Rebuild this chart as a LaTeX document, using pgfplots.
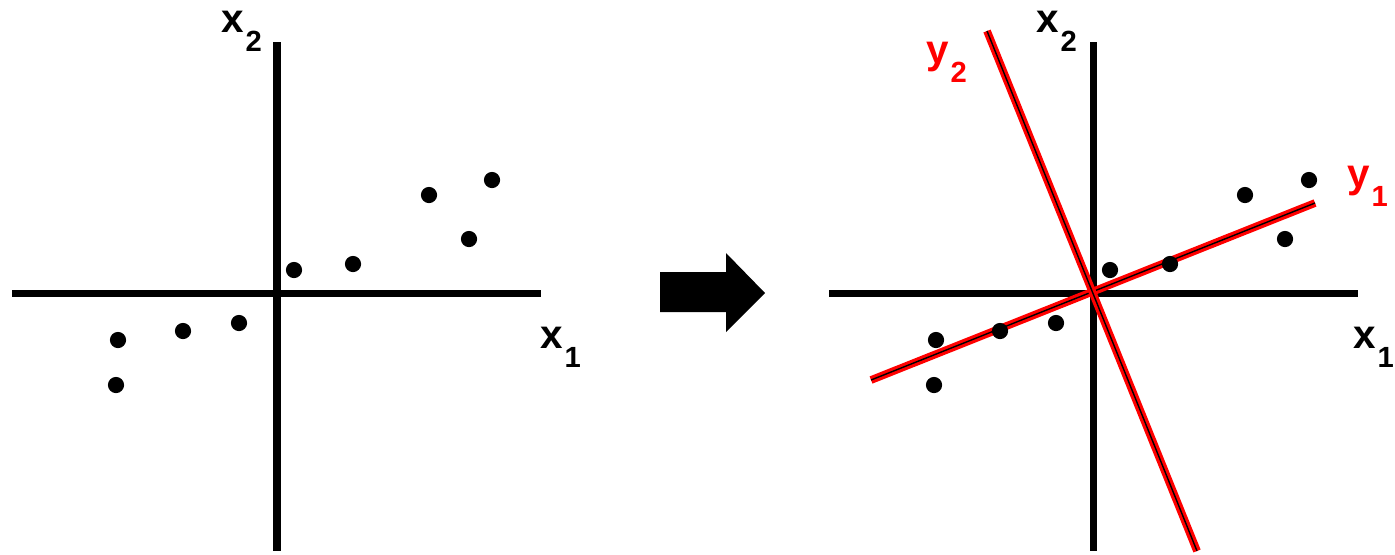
\documentclass[border=0pt]{standalone}
\usepackage{fontspec}
\setmainfont{Liberation Sans}
\usepackage{pgfplots}
\pgfplotsset{compat=1.18}

% label: bold x/y with a lowered subscript digit
\newcommand{\lab}[2]{\fontsize{11.5}{12}\selectfont\bfseries #1\kern0.4pt\raisebox{-5.5pt}{\fontsize{8.3}{9}\selectfont #2}}

\begin{document}
\begin{tikzpicture}
\begin{axis}[
    scale only axis,
    width=13.95cm, height=5.51cm,
    xmin=0, xmax=1395, ymin=0, ymax=551,
    y dir=reverse,
    hide axis,
    clip=false,
]
\path (rel axis cs:0,0) rectangle (rel axis cs:1,1);

% coordinate axes (pixel coordinates, y downwards)
\addplot[black, line width=2pt] coordinates {(12,293) (541,293)};
\addplot[black, line width=2pt] coordinates {(277,42) (277,551)};
\addplot[black, line width=2pt] coordinates {(829,293) (1358,293)};
\addplot[black, line width=2pt] coordinates {(1093,42) (1093,551)};

% arrow
\addplot[fill=black, draw=none] coordinates {(660,272) (726,272) (726,253) (765,293) (726,332) (726,312) (660,312)} -- cycle;

% principal axes
\addplot[red, line width=2.2pt] coordinates {(871,380) (1315,203)};
\addplot[black, line width=0.4pt] coordinates {(871,380) (1315,203)};
\addplot[red, line width=2.2pt] coordinates {(987,31) (1197,551)};
\addplot[black, line width=0.4pt] coordinates {(987,31) (1197,551)};

% data points
\addplot[only marks, mark=*, mark size=2.1pt, black] coordinates {
(118,340) (116,385) (183,331) (239,323) (294,270) (353,264) (429,195) (469,239) (492,180)};
\addplot[only marks, mark=*, mark size=2.1pt, black] coordinates {
(936,340) (934,385) (1000,331) (1056,323) (1110,270) (1170,264) (1245,195) (1285,239) (1309,180)};

% labels
\node[anchor=base west, inner sep=0pt] at (axis cs:221,32) {\lab{x}{2}};
\node[anchor=base west, inner sep=0pt] at (axis cs:1036,32) {\lab{x}{2}};
\node[anchor=base west, inner sep=0pt] at (axis cs:540,348) {\lab{x}{1}};
\node[anchor=base west, inner sep=0pt] at (axis cs:1353,348) {\lab{x}{1}};
\node[red, anchor=base west, inner sep=0pt] at (axis cs:926,63) {\lab{y}{2}};
\node[red, anchor=base west, inner sep=0pt] at (axis cs:1347,187) {\lab{y}{1}};
\end{axis}
\end{tikzpicture}
\end{document}
